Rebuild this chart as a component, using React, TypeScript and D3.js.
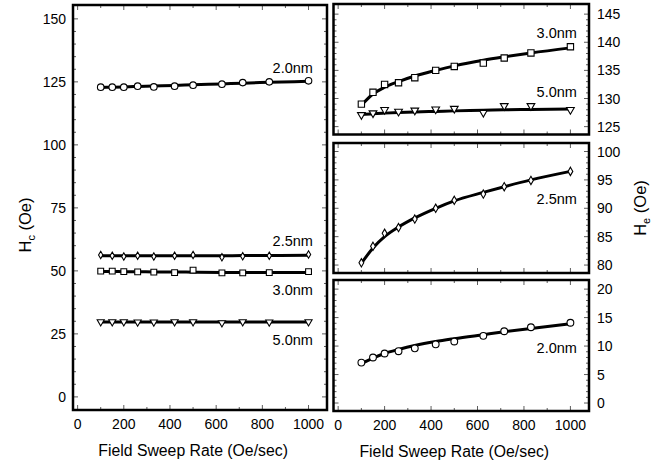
import React, { useEffect, useRef } from "react";
import * as d3 from "d3";

// sweep rates (Oe/sec), shared by every series
const rates = [100, 150, 200, 260, 330, 420, 500, 625, 715, 830, 1000];

// left panel, Hc (Oe)
const hc20 = [122.9, 122.9, 122.9, 123.3, 123.0, 123.3, 123.7, 124.1, 124.7, 125.0, 125.4];
const hc20Fit = [122.8, 122.9, 123.0, 123.2, 123.4, 123.6, 123.9, 124.2, 124.5, 124.8, 125.2];
const hc25 = [56.3, 56.0, 55.7, 56.0, 55.7, 56.0, 56.3, 55.4, 55.8, 56.0, 56.5];
const hc25Fit = [56.0, 56.0, 56.0, 56.0, 56.0, 56.0, 56.0, 56.0, 56.1, 56.1, 56.2];
const hc30 = [49.9, 49.9, 49.7, 49.6, 49.5, 49.3, 50.3, 49.2, 49.2, 49.3, 49.7];
const hc30Fit = [49.8, 49.8, 49.7, 49.7, 49.6, 49.6, 49.5, 49.4, 49.4, 49.4, 49.4];
const hc50 = [29.8, 29.8, 29.8, 29.7, 29.7, 29.8, 29.8, 29.4, 29.8, 29.7, 29.8];
const hc50Fit = [29.7, 29.7, 29.7, 29.7, 29.7, 29.7, 29.7, 29.7, 29.7, 29.7, 29.7];

// right panels, He (Oe)
const he30 = [129.0, 131.1, 132.5, 132.8, 133.7, 135.0, 135.7, 136.3, 137.2, 138.1, 139.2];
const he30Fit = [128.8, 130.8, 132.0, 133.0, 134.0, 135.0, 135.8, 136.8, 137.4, 138.1, 139.0];
const he50 = [127.1, 127.4, 128.0, 127.7, 127.9, 128.1, 128.2, 127.5, 128.7, 128.7, 128.0];
const he50Fit = [127.15, 127.3, 127.4, 127.5, 127.6, 127.7, 127.8, 127.9, 128.0, 128.05, 128.15];
const he25 = [80.4, 83.3, 85.6, 86.6, 88.1, 90.0, 91.4, 92.5, 93.8, 94.9, 96.5];
const he25Fit = [80.3, 83.0, 85.0, 86.7, 88.3, 90.0, 91.3, 92.8, 93.8, 95.0, 96.5];
const he20 = [7.1, 8.0, 8.7, 9.1, 9.6, 10.3, 10.8, 11.8, 12.6, 13.3, 14.1];
const he20Fit = [6.9, 7.9, 8.7, 9.4, 10.1, 10.8, 11.3, 12.0, 12.5, 13.1, 13.9];

const xTicks = [0, 200, 400, 600, 800, 1000];
const hcTicks = [0, 25, 50, 75, 100, 125, 150];
const heTopTicks = [125, 130, 135, 140, 145];
const heMidTicks = [80, 85, 90, 95, 100];
const heBotTicks = [0, 5, 10, 15, 20];

const FONT = "'Liberation Sans', Arial, Helvetica, sans-serif";

type Series = {
  values: number[];
  fit: number[];
  symbol: d3.SymbolType;
  size: number;
  rotate?: number;
};

type Label = { text: string; x: number; y: number };

type Panel = {
  left: number;
  right: number;
  top: number;
  bottom: number;
  yDomain: [number, number];
  yTicks: number[];
  yMinor: number;
  ySide: "left" | "right";
  showX: boolean;
  series: Series[];
  labels: Label[];
};

function drawPanel(svg: d3.Selection<SVGSVGElement, unknown, null, undefined>, p: Panel) {
  const x = d3.scaleLinear().domain([-20, 1080]).range([p.left, p.right]);
  const y = d3.scaleLinear().domain(p.yDomain).range([p.bottom, p.top]);
  const g = svg.append("g");

  // inward ticks on all four sides
  const tickColor = "#333";
  const xMinor = d3.range(0, 1001, 100);
  xMinor.forEach((v) => {
    const len = v % 200 === 0 ? 5 : 3;
    g.append("line").attr("x1", x(v)).attr("x2", x(v)).attr("y1", p.bottom).attr("y2", p.bottom - len)
      .attr("stroke", tickColor).attr("stroke-width", 0.8);
    g.append("line").attr("x1", x(v)).attr("x2", x(v)).attr("y1", p.top).attr("y2", p.top + len)
      .attr("stroke", tickColor).attr("stroke-width", 0.8);
  });
  const yMin = p.yTicks[0];
  const yMax = p.yTicks[p.yTicks.length - 1];
  const major = p.yTicks[1] - p.yTicks[0];
  d3.range(yMin, yMax + 0.001, p.yMinor).forEach((v) => {
    const isMajor = Math.abs(((v - yMin) / major) - Math.round((v - yMin) / major)) < 1e-6;
    const len = isMajor ? 5 : 3;
    g.append("line").attr("x1", p.left).attr("x2", p.left + len).attr("y1", y(v)).attr("y2", y(v))
      .attr("stroke", tickColor).attr("stroke-width", 0.8);
    g.append("line").attr("x1", p.right).attr("x2", p.right - len).attr("y1", y(v)).attr("y2", y(v))
      .attr("stroke", tickColor).attr("stroke-width", 0.8);
  });

  // y tick labels
  p.yTicks.forEach((v) => {
    g.append("text")
      .attr("x", p.ySide === "left" ? p.left - 7 : p.right + 8)
      .attr("y", y(v) + 5)
      .attr("text-anchor", p.ySide === "left" ? "end" : "start")
      .style("font-family", FONT)
      .style("font-size", "14px")
      .text(v);
  });

  if (p.showX) {
    xTicks.forEach((v) => {
      g.append("text")
        .attr("x", x(v))
        .attr("y", p.bottom + 19)
        .attr("text-anchor", "middle")
        .style("font-family", FONT)
        .style("font-size", "14px")
        .text(v);
    });
    g.append("text")
      .attr("x", (x(0) + x(1000)) / 2)
      .attr("y", p.bottom + 46)
      .attr("text-anchor", "middle")
      .style("font-family", FONT)
      .style("font-size", "15.8px")
      .text("Field Sweep Rate (Oe/sec)");
  }

  // fit lines then markers
  const line = d3.line<number>()
    .x((d, i) => x(rates[i]))
    .y((d) => y(d))
    .curve(d3.curveMonotoneX);

  p.series.forEach((s) => {
    g.append("path")
      .attr("d", line(s.fit))
      .attr("fill", "none")
      .attr("stroke", "#000")
      .attr("stroke-width", 3);
  });
  p.series.forEach((s) => {
    const sym = d3.symbol().type(s.symbol).size(s.size);
    g.selectAll(null)
      .data(s.values)
      .enter()
      .append("path")
      .attr("d", sym)
      .attr("transform", (d, i) => `translate(${x(rates[i])},${y(d)}) rotate(${s.rotate || 0})`)
      .attr("fill", "#fff")
      .attr("stroke", "#000")
      .attr("stroke-width", 1.1);
  });

  p.labels.forEach((l) => {
    g.append("text")
      .attr("x", x(l.x))
      .attr("y", y(l.y))
      .attr("text-anchor", "end")
      .style("font-family", FONT)
      .style("font-size", "14.5px")
      .text(l.text);
  });

  // frame
  g.append("rect")
    .attr("x", p.left)
    .attr("y", p.top)
    .attr("width", p.right - p.left)
    .attr("height", p.bottom - p.top)
    .attr("fill", "none")
    .attr("stroke", "#000")
    .attr("stroke-width", 2.5);
}

export default function App() {
  const ref = useRef<SVGSVGElement>(null);

  useEffect(() => {
    const svg = d3.select(ref.current as SVGSVGElement);
    svg.selectAll("*").remove();

    drawPanel(svg, {
      left: 73, right: 327, top: 5, bottom: 410,
      yDomain: [-5.2, 155.5], yTicks: hcTicks, yMinor: 5, ySide: "left", showX: true,
      series: [
        { values: hc20, fit: hc20Fit, symbol: d3.symbolCircle, size: 34 },
        { values: hc25, fit: hc25Fit, symbol: d3.symbolDiamond, size: 16 },
        { values: hc30, fit: hc30Fit, symbol: d3.symbolSquare, size: 34 },
        { values: hc50, fit: hc50Fit, symbol: d3.symbolTriangle, size: 22, rotate: 180 },
      ],
      labels: [
        { text: "2.0nm", x: 1019, y: 128.6 },
        { text: "2.5nm", x: 1019, y: 59.9 },
        { text: "3.0nm", x: 1019, y: 40.5 },
        { text: "5.0nm", x: 1019, y: 20.6 },
      ],
    });

    drawPanel(svg, {
      left: 333.5, right: 589, top: 4, bottom: 134.5,
      yDomain: [123.6, 146.8], yTicks: heTopTicks, yMinor: 1, ySide: "right", showX: false,
      series: [
        { values: he30, fit: he30Fit, symbol: d3.symbolSquare, size: 40 },
        { values: he50, fit: he50Fit, symbol: d3.symbolTriangle, size: 26, rotate: 180 },
      ],
      labels: [
        { text: "3.0nm", x: 1028, y: 140.7 },
        { text: "5.0nm", x: 1028, y: 130.3 },
      ],
    });

    drawPanel(svg, {
      left: 333.5, right: 589, top: 143, bottom: 273,
      yDomain: [78.6, 101.5], yTicks: heMidTicks, yMinor: 1, ySide: "right", showX: false,
      series: [{ values: he25, fit: he25Fit, symbol: d3.symbolDiamond, size: 20 }],
      labels: [{ text: "2.5nm", x: 1028, y: 90.7 }],
    });

    drawPanel(svg, {
      left: 333.5, right: 589, top: 280, bottom: 411,
      yDomain: [-1.4, 21.6], yTicks: heBotTicks, yMinor: 1, ySide: "right", showX: true,
      series: [{ values: he20, fit: he20Fit, symbol: d3.symbolCircle, size: 36 }],
      labels: [{ text: "2.0nm", x: 1028, y: 8.7 }],
    });

    // y axis titles
    const hc = svg.append("text")
      .attr("transform", "translate(31,225) rotate(-90)")
      .attr("text-anchor", "middle")
      .style("font-family", FONT)
      .style("font-size", "16.5px");
    hc.append("tspan").text("H");
    hc.append("tspan").attr("dy", 4).style("font-size", "11px").text("c");
    hc.append("tspan").attr("dy", -4).text(" (Oe)");

    const he = svg.append("text")
      .attr("transform", "translate(646,208) rotate(-90)")
      .attr("text-anchor", "middle")
      .style("font-family", FONT)
      .style("font-size", "16.5px");
    he.append("tspan").text("H");
    he.append("tspan").attr("dy", 4).style("font-size", "11px").text("e");
    he.append("tspan").attr("dy", -4).text(" (Oe)");
  }, []);

  return (
    <svg
      ref={ref}
      width={670}
      height={466}
      style={{ position: "absolute", left: 0, top: 0, background: "#fff" }}
    />
  );
}
